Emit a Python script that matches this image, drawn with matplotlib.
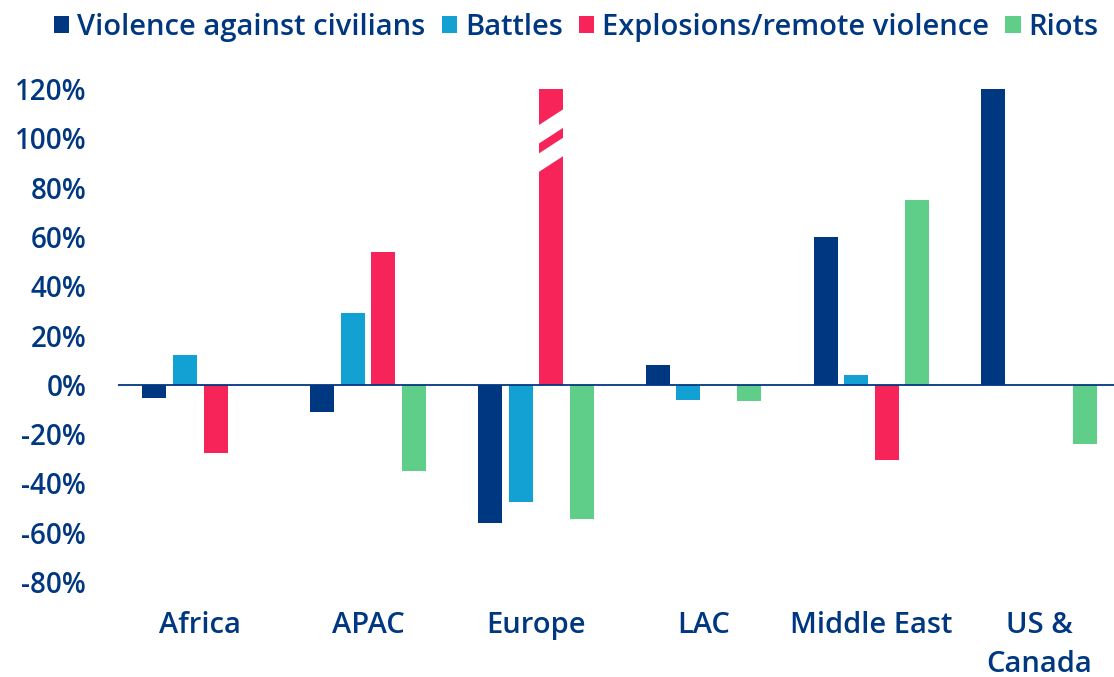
import numpy as np
import matplotlib.pyplot as plt
from matplotlib.patches import Polygon

regions = ["Africa", "APAC", "Europe", "LAC", "Middle East", "US &\nCanada"]
series = ["Violence against civilians", "Battles", "Explosions/remote violence", "Riots"]
violence = [-5.5, -11, -56, 8, 60, 120]
battles = [12, 29, -47.5, -6, 4, np.nan]
explosions = [-27.5, 54, 120, np.nan, -30.5, np.nan]
riots = [np.nan, -35, -54.5, -6.5, 75, -24]
yticks = [-80, -60, -40, -20, 0, 20, 40, 60, 80, 100, 120]
colors = ["#003781", "#13A0D3", "#F62459", "#5FCE89"]
navy = "#003781"

plt.rcParams["font.family"] = ["Open Sans", "DejaVu Sans"]

fig = plt.figure(figsize=(11.14, 6.77), dpi=100)
ax = fig.add_axes([0.106, 0.1403, 0.894, 0.7282])

x = np.arange(len(regions))
w = 0.143
step = 0.182
bars = []
for i, (vals, name) in enumerate(zip([violence, battles, explosions, riots], series)):
    b = ax.bar(x + (i - 1.5) * step, vals, width=w, color=colors[i], label=name, zorder=2)
    bars.append(b)

# axis-break stripes on the clipped Europe explosions bar
rect = bars[2][2]
x0, x1 = rect.get_x() - 0.01, rect.get_x() + rect.get_width() + 0.01
mid = 99
for lo, hi in [(mid - 1.5, mid + 6), (mid - 13, mid - 5.5)]:
    ax.add_patch(Polygon([(x0, lo), (x1, lo + 7.2), (x1, hi + 7.2), (x0, hi)],
                         closed=True, facecolor="white", edgecolor="none", zorder=3))

ax.axhline(0, color=navy, lw=1.3, zorder=4)

ax.set_xlim(-0.49, 5.446)
ax.set_ylim(-80, 120)
ax.set_yticks(yticks)
ax.set_yticklabels([f"{v}%" for v in yticks])
ax.set_xticks(x)
ax.set_xticklabels(regions, linespacing=1.45, va="top")
ax.tick_params(axis="y", length=0, pad=23, labelsize=20, labelcolor=navy)
ax.tick_params(axis="x", length=0, pad=21, labelsize=21, labelcolor=navy)
for lbl in ax.get_xticklabels() + ax.get_yticklabels():
    lbl.set_fontweight("semibold")
for s in ax.spines.values():
    s.set_visible(False)

leg = fig.legend(loc="upper left", bbox_to_anchor=(0.025, 1.02), ncol=4, frameon=False,
                 handlelength=0.52, handleheight=0.52, handletextpad=0.28, columnspacing=0.55,
                 prop={"size": 21, "weight": "semibold"})
for t in leg.get_texts():
    t.set_color(navy)

plt.savefig("out.png", dpi=100)
